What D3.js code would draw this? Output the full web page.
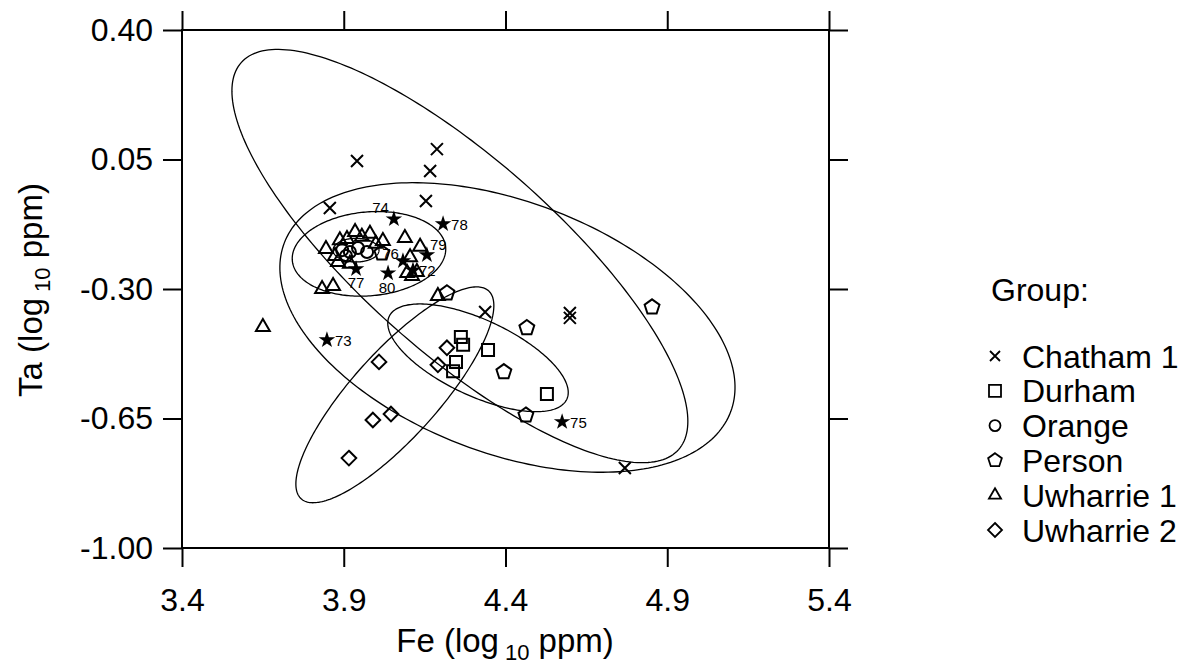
<!DOCTYPE html>
<html><head><meta charset="utf-8">
<script src="https://cdn.jsdelivr.net/npm/d3@7"></script>
<style>body{margin:0;background:#fff}svg{display:block}text{font-family:"Liberation Sans",Arial,sans-serif;fill:#000}</style>
</head><body>
<svg id="chart" width="1188" height="666"></svg>
<script>
// ---- data ----
const xTicks = [3.4, 3.9, 4.4, 4.9, 5.4];
const yTicks = [0.40, 0.05, -0.30, -0.65, -1.00];
const groupNames = ["Chatham 1", "Durham", "Orange", "Person", "Uwharrie 1", "Uwharrie 2"];
const chatham1 = [[3.941,0.046],[4.188,0.078],[4.167,0.019],[3.857,-0.081],[4.154,-0.062],[4.337,-0.362],[4.599,-0.365],[4.599,-0.378],[4.769,-0.784]];
const durham = [[4.262,-0.430],[4.269,-0.451],[4.346,-0.465],[4.247,-0.497],[4.238,-0.522],[4.528,-0.584]];
const orange = [[3.895,-0.195],[3.919,-0.200],[3.944,-0.189],[3.972,-0.200],[3.907,-0.211]];
const person = [[4.018,-0.203],[4.219,-0.311],[4.853,-0.349],[4.466,-0.405],[4.395,-0.524],[4.463,-0.641]];
const uwharrie1 = [[3.650,-0.403],[3.833,-0.300],[3.867,-0.292],[4.191,-0.319],[3.845,-0.192],[3.888,-0.168],[3.910,-0.165],[3.935,-0.146],[3.956,-0.159],[3.981,-0.151],[4.021,-0.170],[4.089,-0.162],[4.136,-0.186],[4.105,-0.214],[3.873,-0.211],[3.882,-0.227],[3.919,-0.232],[4.096,-0.257],[4.111,-0.265],[4.126,-0.254],[3.999,-0.178]];
const uwharrie2 = [[4.009,-0.497],[3.990,-0.654],[4.046,-0.638],[3.916,-0.757],[4.219,-0.459],[4.191,-0.505]];
const starIds = ["72","73","74","75","76","77","78","79","80"];
const starFe = [4.114,3.848,4.055,4.575,4.083,3.938,4.207,4.157,4.037];
const starTa = [-0.249,-0.438,-0.111,-0.659,-0.224,-0.246,-0.124,-0.208,-0.257];
// ellipses: centre and two conjugate semi-diameters (data units)
const ellCentre = [[4.259,-0.211],[4.406,-0.404],[3.978,-0.205],[3.938,-0.195],[4.315,-0.486],[4.058,-0.586]];
const ellU = [[0.676,-0.523],[0.690,-0.228],[0.237,0.018],[0.071,0],[0.2745,-0.1119],[0.2896,0.2811]];
const ellV = [[-0.199,-0.196],[-0.137,-0.318],[0.011,-0.113],[0,-0.032],[-0.0496,-0.0931],[0.0988,-0.0778]];

// ---- layout ----
const L = 182, R = 829, T = 30, B = 548, TK = 19;
const FONT = "Liberation Sans, Arial, sans-serif";
const svg = d3.select("#chart");
const x = d3.scaleLinear().domain([3.4, 5.4]).range([L, R]);
const y = d3.scaleLinear().domain([-1.0, 0.4]).range([B, T]);

// ---- marker shapes ----
function poly(n, r, rot) {
  const p = [];
  for (let i = 0; i < n; i++) { const a = rot + i * 2 * Math.PI / n; p.push([r * Math.cos(a), r * Math.sin(a)]); }
  return "M" + p.map(d => d[0].toFixed(2) + "," + d[1].toFixed(2)).join("L") + "Z";
}
const shapes = {
  "Chatham 1": s => `M${-s},${-s}L${s},${s}M${-s},${s}L${s},${-s}`,
  "Durham": s => `M${-s},${-s}H${s}V${s}H${-s}Z`,
  "Orange": s => `M${-s},0A${s},${s} 0 1,0 ${s},0A${s},${s} 0 1,0 ${-s},0Z`,
  "Person": s => poly(5, s, -Math.PI / 2),
  "Uwharrie 1": s => poly(3, s, -Math.PI / 2),
  "Uwharrie 2": s => poly(4, s, -Math.PI / 2)
};
const plotSize = {"Chatham 1":6,"Durham":6,"Orange":6,"Person":7.8,"Uwharrie 1":8,"Uwharrie 2":7.3};
const legSize = {"Chatham 1":5,"Durham":6,"Orange":5.5,"Person":7.2,"Uwharrie 1":7,"Uwharrie 2":7};
const groupData = [chatham1, durham, orange, person, uwharrie1, uwharrie2];

// ---- ellipses ----
const line = d3.line().x(d => x(d[0])).y(d => y(d[1])).curve(d3.curveLinearClosed);
const eg = svg.append("g").attr("fill", "none").attr("stroke", "#000").attr("stroke-width", 1.3);
ellCentre.forEach((c, i) => {
  const pts = d3.range(240).map(k => {
    const t = k / 240 * 2 * Math.PI;
    return [c[0] + ellU[i][0] * Math.cos(t) + ellV[i][0] * Math.sin(t), c[1] + ellU[i][1] * Math.cos(t) + ellV[i][1] * Math.sin(t)];
  });
  eg.append("path").attr("d", line(pts));
});

// ---- axes (all four sides, outward ticks) ----
function styleAxis(g) { g.selectAll("path,line").attr("stroke", "#000").attr("stroke-width", 2); g.select(".domain").remove(); }
svg.append("g").attr("transform", `translate(0,${B})`)
  .call(d3.axisBottom(x).tickValues(xTicks).tickSize(TK).tickPadding(21).tickFormat(d3.format(".1f")))
  .call(styleAxis).selectAll("text").attr("font-size", 32).attr("font-family", FONT);
svg.append("g").attr("transform", `translate(0,${T})`)
  .call(d3.axisTop(x).tickValues(xTicks).tickSize(TK).tickFormat(""))
  .call(styleAxis);
svg.append("g").attr("transform", `translate(${L},0)`)
  .call(d3.axisLeft(y).tickValues(yTicks).tickSize(TK).tickPadding(10).tickFormat(d => d.toFixed(2)))
  .call(styleAxis).selectAll("text").attr("font-size", 32).attr("font-family", FONT);
svg.append("g").attr("transform", `translate(${R},0)`)
  .call(d3.axisRight(y).tickValues(yTicks).tickSize(TK).tickFormat(""))
  .call(styleAxis);
// frame
svg.append("rect").attr("x", L).attr("y", T).attr("width", R - L).attr("height", B - T)
  .attr("fill", "none").attr("stroke", "#000").attr("stroke-width", 2);

// ---- points ----
const pg = svg.append("g").attr("fill", "none").attr("stroke", "#000").attr("stroke-width", 2);
groupNames.forEach((name, gi) => {
  pg.selectAll(null).data(groupData[gi]).enter().append("path")
    .attr("transform", d => `translate(${x(d[0])},${y(d[1])})`)
    .attr("d", shapes[name](plotSize[name]));
});
// stars with labels
const starSym = d3.symbol().type(d3.symbolStar).size(85);
const stars = starIds.map((id, i) => ({id, fe: starFe[i], ta: starTa[i]}));
svg.append("g").selectAll("path").data(stars).enter().append("path")
  .attr("transform", d => `translate(${x(d.fe)},${y(d.ta)})`)
  .attr("d", starSym()).attr("fill", "#000");
const labPos = {"72":[6,6,"start"],"73":[8,6,"start"],"74":[-5,-6,"end"],"75":[8,6,"start"],"76":[-4,-2,"end"],
  "77":[0,19,"middle"],"78":[8,6,"start"],"79":[3,-5,"start"],"80":[-1,20,"middle"]};
svg.append("g").selectAll("text").data(stars).enter().append("text")
  .attr("x", d => x(d.fe) + labPos[d.id][0]).attr("y", d => y(d.ta) + labPos[d.id][1])
  .attr("text-anchor", d => labPos[d.id][2]).attr("font-size", 15).text(d => d.id);

// ---- axis titles ----
const xt = svg.append("text").attr("x", 505).attr("y", 652).attr("text-anchor", "middle").attr("font-size", 33);
xt.append("tspan").text("Fe (log");
xt.append("tspan").attr("font-size", 22).attr("dy", 8).attr("dx", 6).text("10");
xt.append("tspan").attr("dy", -8).text(" ppm)");
const yt = svg.append("text").attr("transform", "translate(42,290) rotate(-90)").attr("text-anchor", "middle").attr("font-size", 33);
yt.append("tspan").text("Ta (log");
yt.append("tspan").attr("font-size", 22).attr("dy", 8).attr("dx", 6).text("10");
yt.append("tspan").attr("dy", -8).text(" ppm)");

// ---- legend ----
svg.append("text").attr("x", 991).attr("y", 301).attr("font-size", 32).text("Group:");
const lg = svg.append("g").selectAll("g").data(groupNames).enter().append("g")
  .attr("transform", (d, i) => `translate(995,${356 + i * 34.8})`);
lg.append("path").attr("d", d => shapes[d](legSize[d])).attr("fill", "none").attr("stroke", "#000").attr("stroke-width", 1.8);
lg.append("text").attr("x", 27).attr("y", 11.5).attr("font-size", 32).text(d => d);
</script>
</body></html>
